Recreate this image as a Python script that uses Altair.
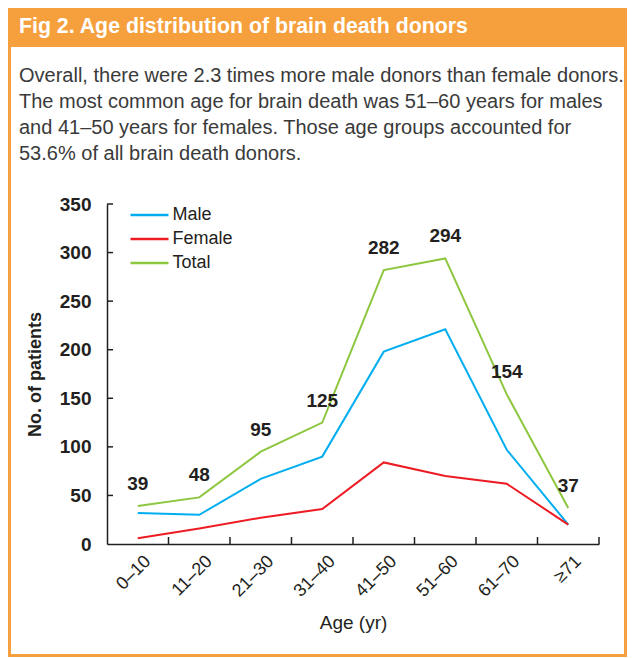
import altair as alt
import pandas as pd

# ---- data ----
ages = ["0–10", "11–20", "21–30", "31–40", "41–50", "51–60", "61–70", "≥71"]
male = [32, 30, 67, 90, 198, 221, 97, 20]
female = [6, 16, 27, 36, 84, 70, 62, 20]
total = [39, 48, 95, 125, 282, 294, 154, 37]
series = ["Male", "Female", "Total"]
colors = ["#00AEEF", "#ED1C24", "#8DC63F"]
y_ticks = [0, 50, 100, 150, 200, 250, 300, 350]
title_text = "Fig 2. Age distribution of brain death donors"
paragraph = [
    "Overall, there were 2.3 times more male donors than female donors.",
    "The most common age for brain death was 51–60 years for males",
    "and 41–50 years for females. Those age groups accounted for",
    "53.6% of all brain death donors.",
]

# ---- layout ----
W, H = 492, 340
PAD = {"left": 99, "top": 196, "right": 28, "bottom": 114}
ORANGE = "#F6A03D"
DARK = "#231F20"
FONT = "Liberation Sans"

rows = []
for s, vals in zip(series, [male, female, total]):
    for i, (a, v) in enumerate(zip(ages, vals)):
        rows.append({"age": a, "series": s, "value": v, "idx": i})
df = pd.DataFrame(rows)
df_total = pd.DataFrame({"age": ages, "value": total})
one = pd.DataFrame({"k": [0]})

xscale = alt.Scale(type="band", domain=ages, paddingInner=0, paddingOuter=0)
yscale = alt.Scale(domain=[0, 350], nice=False, zero=True)

x_axis = alt.Axis(
    title="Age (yr)", labelAngle=-45, labelFontSize=18, labelColor=DARK, labelFont=FONT,
    ticks=False, tickSize=0, domainColor=DARK, domainWidth=1.5, labelPadding=8, labelOffset=4,
    titleFontSize=19, titleFontWeight="normal", titleColor=DARK, titleFont=FONT,
    titleX=W / 2, titleY=84, titleBaseline="alphabetic", titleAlign="center",
)
y_axis = alt.Axis(
    title="No. of patients", values=y_ticks, ticks=False, tickSize=0, grid=False,
    labelFontSize=19, labelFontWeight="bold", labelColor=DARK, labelFont=FONT, labelPadding=16,
    domainColor=DARK, domainWidth=1.5,
    titleFontSize=18, titleFontWeight="bold", titleColor=DARK, titleFont=FONT,
    titleX=-72, titleY=H / 2, titleAngle=270, titleBaseline="middle", titleAlign="center",
)

header = alt.Chart(one).mark_rect(fill=ORANGE).encode(
    x=alt.value(-PAD["left"]), x2=alt.value(W + PAD["right"]),
    y=alt.value(-PAD["top"]), y2=alt.value(-PAD["top"] + 39),
)
border = alt.Chart(one).mark_rect(fillOpacity=0, stroke=ORANGE, strokeWidth=3).encode(
    x=alt.value(-PAD["left"] + 1.5), x2=alt.value(W + PAD["right"] - 1.5),
    y=alt.value(-PAD["top"] + 1.5), y2=alt.value(H + PAD["bottom"] - 2.5),
)
title = alt.Chart(one).mark_text(
    align="left", baseline="alphabetic", fontSize=21.3, fontWeight="bold", color="white", font=FONT
).encode(x=alt.value(-88), y=alt.value(-171), text=alt.value(title_text))
para = alt.Chart(one).mark_text(
    align="left", baseline="alphabetic", fontSize=20, color="#3A3A3A", lineHeight=26, font=FONT
).encode(x=alt.value(-88), y=alt.value(-122), text=alt.value(paragraph))

ytick_df = pd.DataFrame({"value": y_ticks[1:]})
yticks = alt.Chart(ytick_df).mark_rule(color=DARK, strokeWidth=1.5).encode(
    y=alt.Y("value:Q", scale=yscale, axis=y_axis), x=alt.value(0), x2=alt.value(6)
)
xtick_df = pd.DataFrame({"age": ages})
xticks = alt.Chart(xtick_df).mark_rule(color=DARK, strokeWidth=1.5).encode(
    x=alt.X("age:N", scale=xscale, bandPosition=1, axis=x_axis),
    y=alt.value(H), y2=alt.value(H - 7),
)

lines = alt.Chart(df).mark_line(strokeWidth=2).encode(
    x=alt.X("age:N", scale=xscale, bandPosition=0.5, axis=x_axis),
    y=alt.Y("value:Q", scale=yscale, axis=y_axis),
    color=alt.Color(
        "series:N", scale=alt.Scale(domain=series, range=colors),
        legend=alt.Legend(
            orient="none", legendX=31.5, legendY=0, title=None,
            symbolType="M-2,0H2", symbolSize=361, symbolStrokeWidth=2.5,
            labelFontSize=18, labelColor=DARK, labelFont=FONT, labelOffset=12,
            padding=0, rowPadding=4,
        ),
    ),
    order=alt.Order("idx:Q"),
)

labels = alt.Chart(df_total).mark_text(
    fontSize=19, fontWeight="bold", color=DARK, dy=-16, baseline="alphabetic", font=FONT
).encode(
    x=alt.X("age:N", scale=xscale, bandPosition=0.5, axis=x_axis),
    y=alt.Y("value:Q", scale=yscale, axis=y_axis),
    text="value:Q",
)

chart = alt.layer(header, border, title, para, yticks, xticks, lines, labels).properties(
    width=W, height=H, autosize=alt.AutoSizeParams(type="none"), padding=PAD
).configure(font=FONT).configure_view(strokeWidth=0)

chart.save("out.html", embed_options={"renderer": "svg", "actions": False})
